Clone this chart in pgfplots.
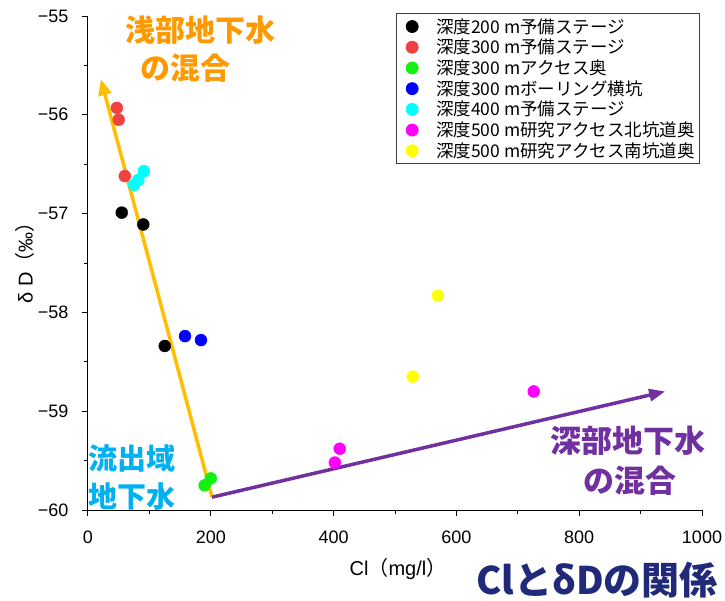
\documentclass[border=0pt]{standalone}
\usepackage{fontspec}
\setmainfont{Liberation Sans}
\newfontfamily\cjk{Noto Sans CJK JP}
\usepackage{pgfplots}
\pgfplotsset{compat=1.18}
\pgfplotsset{legend image code/.code={\path[draw=none,fill=none] (-13pt,0pt) -- (0pt,0pt); \draw[#1] plot coordinates {(0pt,0pt)};}}
\usetikzlibrary{arrows.meta}
\definecolor{cred}{RGB}{240,65,65}
\definecolor{cgreen}{RGB}{20,240,20}
\definecolor{ccyan}{RGB}{0,255,255}
\definecolor{cmag}{RGB}{255,0,255}
\definecolor{cyel}{RGB}{255,255,0}
\definecolor{cblue}{RGB}{0,0,255}
\definecolor{corline}{RGB}{255,190,0}
\definecolor{cortext}{RGB}{255,153,0}
\definecolor{cbltext}{RGB}{0,176,240}
\definecolor{cpurple}{RGB}{112,48,160}
\definecolor{cnavy}{RGB}{32,42,120}
\begin{document}
\begin{tikzpicture}[x=1pt,y=1pt]
\begin{axis}[
 at={(0,0)}, anchor=south west,
 scale only axis, width=614pt, height=494pt,
 xmin=0, xmax=1000, ymin=-60, ymax=-55,
 axis x line*=bottom, axis y line*=left,
 axis line style={-, line width=1pt},
 xtick={0,200,...,1000}, ytick={-60,-59,-58,-57,-56,-55},
 xticklabels={0,200,400,600,800,1000},
 yticklabels={−60,−59,−58,−57,−56,−55},
 minor x tick num=1, minor y tick num=1,
 tick align=outside,
 major tick length=6pt, minor tick length=4pt,
 tick style={black, line width=1pt},
 tick label style={font=\fontsize{18}{20}\selectfont},
 yticklabel style={xshift=-10pt},
 xticklabel style={yshift=-11pt},
 legend style={at={(0.9967,1.006)}, anchor=north east, draw=black!75, line width=0.8pt,
   font=\cjk\fontsize{17.5}{19}\selectfont, row sep=0.5pt, inner xsep=3pt, inner ysep=3pt,
   /tikz/every odd column/.append style={column sep=16pt}},
 legend cell align=left,
]
\addplot[only marks, mark=*, mark size=6pt, color=black] coordinates {(55,-56.99) (90,-57.11) (125,-58.34)};
\addlegendentry{深度200 m予備ステージ}
\addplot[only marks, mark=*, mark size=6pt, color=cred] coordinates {(47,-55.93) (50,-56.05) (60,-56.62)};
\addlegendentry{深度300 m予備ステージ}
\addplot[only marks, mark=*, mark size=6pt, color=cgreen] coordinates {(200,-59.68) (190,-59.75)};
\addlegendentry{深度300 mアクセス奥}
\addplot[only marks, mark=*, mark size=6pt, color=cblue] coordinates {(158,-58.24) (184,-58.28)};
\addlegendentry{深度300 mボーリング横坑}
\addplot[only marks, mark=*, mark size=6pt, color=ccyan] coordinates {(91,-56.57) (82,-56.66) (75,-56.71)};
\addlegendentry{深度400 m予備ステージ}
\addplot[only marks, mark=*, mark size=6pt, color=cmag] coordinates {(410,-59.38) (402,-59.52) (726,-58.80)};
\addlegendentry{深度500 m研究アクセス北坑道奥}
\addplot[only marks, mark=*, mark size=6pt, color=cyel] coordinates {(570,-57.83) (529,-58.65)};
\addlegendentry{深度500 m研究アクセス南坑道奥}
\addplot[corline, line width=3.5pt, -{Triangle[length=16pt,width=13pt]}, forget plot] coordinates {(202,-59.87) (21,-55.64)};
\addplot[cpurple, line width=3.5pt, -{Triangle[length=16pt,width=12pt]}, forget plot] coordinates {(202,-59.87) (940,-58.80)};
\end{axis}
\node[font=\cjk\bfseries\fontsize{30}{30}\selectfont, text=cortext] at (112,480) {浅部地下水};
\node[font=\cjk\bfseries\fontsize{30}{30}\selectfont, text=cortext] at (97,442) {の混合};
\node[font=\cjk\bfseries\fontsize{29}{29}\selectfont, text=cbltext] at (44,52) {流出域};
\node[font=\cjk\bfseries\fontsize{29}{29}\selectfont, text=cbltext] at (44,14) {地下水};
\node[font=\cjk\bfseries\fontsize{31}{31}\selectfont, text=cpurple] at (540,69) {深部地下水};
\node[font=\cjk\bfseries\fontsize{31}{31}\selectfont, text=cpurple] at (542,29) {の混合};
\node[font=\cjk\bfseries\fontsize{38}{38}\selectfont, text=cnavy] at (509,-70) {ClとδDの関係};
\node[font=\fontsize{20}{22}\selectfont] at (310,-59) {Cl{\cjk（}mg/l{\cjk）}};
\node[font=\fontsize{20}{22}\selectfont, rotate=90] at (-63,252) {δ D{\cjk（}‰{\cjk）}};
\pgfresetboundingbox
\path (-88,-90) rectangle (637,510);
\end{tikzpicture}
\end{document}
